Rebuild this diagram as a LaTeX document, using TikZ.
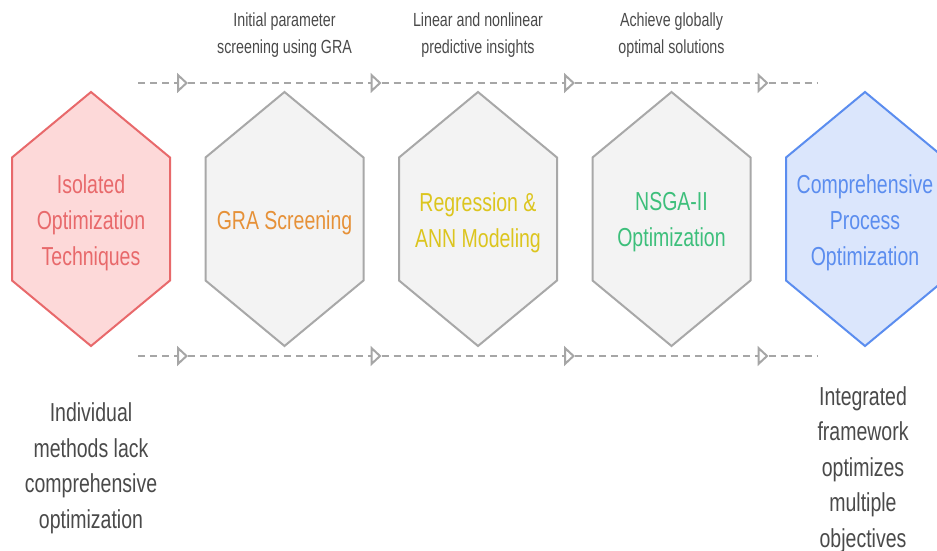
\documentclass[tikz,border=0pt]{standalone}
\usepackage{fontspec}
\setmainfont[FakeStretch=0.75]{Liberation Sans}
\usepackage{xcolor}
\usepackage{tikz}
\usetikzlibrary{arrows.meta}
\definecolor{isoline}{HTML}{E8696B}
\definecolor{isofill}{HTML}{FDD9D9}
\definecolor{stageline}{HTML}{A8A8A8}
\definecolor{stagefill}{HTML}{F3F3F3}
\definecolor{gracolor}{HTML}{E69138}
\definecolor{anncolor}{HTML}{DCC51E}
\definecolor{nsgacolor}{HTML}{3DBF7B}
\definecolor{compline}{HTML}{5B8DEF}
\definecolor{compfill}{HTML}{DBE6FC}
\definecolor{notecolor}{HTML}{4A4A4A}
\definecolor{flowcolor}{HTML}{A6A6A6}
\tikzset{
  hexbox/.style={line width=2bp, line join=miter},
  hextext/.style={align=center, inner sep=0pt, yshift=-3.5bp, font=\fontsize{26bp}{36bp}\selectfont},
  notetext/.style={align=center, inner sep=0pt, text=notecolor, font=\fontsize{19bp}{27bp}\selectfont},
  sidetext/.style={align=center, inner sep=0pt, text=notecolor, font=\fontsize{26bp}{35.5bp}\selectfont},
  flow/.style={draw=flowcolor, line width=2bp, dash pattern=on 7bp off 5bp},
  flowtip/.style={flow, -{Triangle[open, length=11bp, width=20bp]}},
}

\begin{document}
\begin{tikzpicture}[x=1bp, y=-1bp]%
\useasboundingbox (0,0) rectangle (937,551);%
\coordinate (c1) at (91,219);%
\coordinate (c2) at (284.5,219);%
\coordinate (c3) at (478,219);%
\coordinate (c4) at (671.5,219);%
\coordinate (c5) at (865,219);%
% hexagons
\draw[hexbox, draw=isoline, fill=isofill] (c1) ++(0,-127) -- ++(79,65.5) -- ++(0,123) -- ++(-79,65.5) -- ++(-79,-65.5) -- ++(0,-123) -- cycle;%
\draw[hexbox, draw=stageline, fill=stagefill] (c2) ++(0,-127) -- ++(79,65.5) -- ++(0,123) -- ++(-79,65.5) -- ++(-79,-65.5) -- ++(0,-123) -- cycle;%
\draw[hexbox, draw=stageline, fill=stagefill] (c3) ++(0,-127) -- ++(79,65.5) -- ++(0,123) -- ++(-79,65.5) -- ++(-79,-65.5) -- ++(0,-123) -- cycle;%
\draw[hexbox, draw=stageline, fill=stagefill] (c4) ++(0,-127) -- ++(79,65.5) -- ++(0,123) -- ++(-79,65.5) -- ++(-79,-65.5) -- ++(0,-123) -- cycle;%
\draw[hexbox, draw=compline, fill=compfill] (c5) ++(0,-127) -- ++(79,65.5) -- ++(0,123) -- ++(-79,65.5) -- ++(-79,-65.5) -- ++(0,-123) -- cycle;%
\node[hextext, text=isoline] (iso) at (c1) {Isolated\\Optimization\\Techniques};%
\node[hextext, text=gracolor] (gra) at (c2) {GRA Screening};%
\node[hextext, text=anncolor] (ann) at (c3) {Regression \&\\ANN Modeling};%
\node[hextext, text=nsgacolor] (nsga) at (c4) {NSGA-II\\Optimization};%
\node[hextext, text=compline] (comp) at (c5) {Comprehensive\\Process\\Optimization};%
% dashed flow lines
\coordinate (ts) at (138,83);%
\coordinate (t1) at (188,83);%
\coordinate (t2) at (381.5,83);%
\coordinate (t3) at (575,83);%
\coordinate (t4) at (768.5,83);%
\coordinate (te) at (818,83);%
\coordinate (bs) at (138,356);%
\coordinate (b1) at (188,356);%
\coordinate (b2) at (381.5,356);%
\coordinate (b3) at (575,356);%
\coordinate (b4) at (768.5,356);%
\coordinate (be) at (818,356);%
\draw[flowtip] (ts) -- (t1);%
\draw[flowtip] (t1) -- (t2);%
\draw[flowtip] (t2) -- (t3);%
\draw[flowtip] (t3) -- (t4);%
\draw[flow] (t4) -- (te);%
\draw[flowtip] (bs) -- (b1);%
\draw[flowtip] (b1) -- (b2);%
\draw[flowtip] (b2) -- (b3);%
\draw[flowtip] (b3) -- (b4);%
\draw[flow] (b4) -- (be);%
% notes
\node[notetext] (granote) at (284.5,35) {Initial parameter\\screening using GRA};%
\node[notetext] (annnote) at (478,35) {Linear and nonlinear\\predictive insights};%
\node[notetext] (nsganote) at (671.5,35) {Achieve globally\\optimal solutions};%
\node[sidetext] (isonote) at (91,468.5) {Individual\\methods lack\\comprehensive\\optimization};%
\node[sidetext] (compnote) at (863,469.5) {Integrated\\framework\\optimizes\\multiple\\objectives};%
\end{tikzpicture}
\end{document}
